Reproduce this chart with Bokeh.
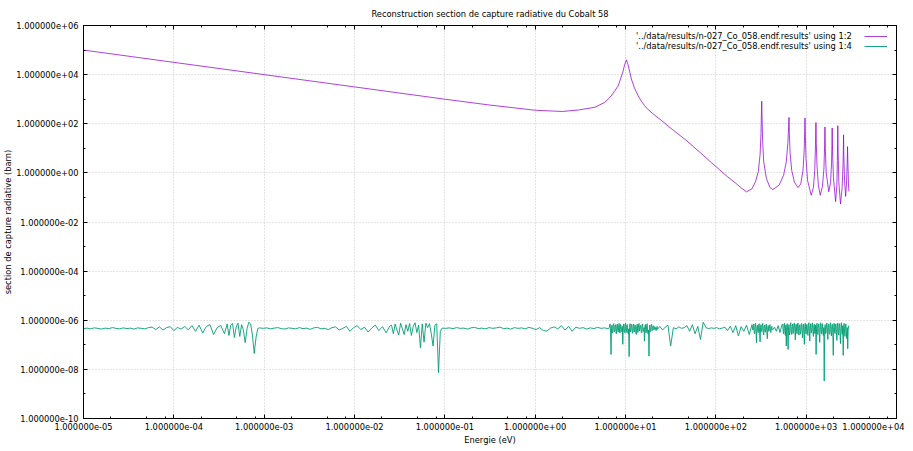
from bokeh.plotting import figure
from bokeh.models import (FixedTicker, LogAxis, Legend, LegendItem, Range1d,
                          CustomJSTickFormatter, ColumnDataSource)
from bokeh.embed import file_html
from bokeh.resources import INLINE

# ---------------- data (log10 values) ----------------
title_text = "Reconstruction section de capture radiative du Cobalt 58"
x_axis_title = "Energie (eV)"
y_axis_title = "section de capture radiative (barn)"
series_labels = ["'../data/results/n-027_Co_058.endf.results' using 1:2",
                 "'../data/results/n-027_Co_058.endf.results' using 1:4"]

x_tick_values = [1e-5, 1e-4, 1e-3, 1e-2, 1e-1, 1e0, 1e1, 1e2, 1e3, 1e4]
x_tick_labels = ["1.000000e-05", "1.000000e-04", "1.000000e-03", "1.000000e-02",
                 "1.000000e-01", "1.000000e+00", "1.000000e+01", "1.000000e+02",
                 "1.000000e+03", "1.000000e+04"]
y_tick_values = [1e-10, 1e-8, 1e-6, 1e-4, 1e-2, 1e0, 1e2, 1e4, 1e6]
y_tick_labels = ["1.000000e-10", "1.000000e-08", "1.000000e-06", "1.000000e-04",
                 "1.000000e-02", "1.000000e+00", "1.000000e+02", "1.000000e+04",
                 "1.000000e+06"]
y_minor_values = [1e-9, 1e-7, 1e-5, 1e-3, 1e-1, 1e1, 1e3, 1e5]
x_minor_values = [m * 10.0 ** k for k in range(-5, 4) for m in (2, 5, 8)]

# series "using 1:2" (purple): log10 energy (eV) and log10 cross-section (barn)
purple_log10_energy = [
    -5.0, -4.0, -3.0, -2.0, -1.0, -0.5, 0.0, 0.3, 0.48, 0.66,
    0.77, 0.84, 0.92, 0.97, 0.99, 1.01, 1.03, 1.065, 1.10, 1.14,
    1.17, 1.21, 1.25, 1.30, 1.35, 1.40, 1.48, 1.58, 1.68, 1.77,
    1.86, 1.95, 2.04, 2.13, 2.22, 2.28, 2.34,
    2.40, 2.44, 2.47, 2.49, 2.50, 2.505, 2.508, 2.512, 2.518, 2.53,
    2.56, 2.60, 2.63, 2.70, 2.75, 2.78, 2.797, 2.806, 2.81, 2.814,
    2.822, 2.84, 2.87, 2.91, 2.94, 2.965, 2.978, 2.984, 2.987, 2.991,
    2.998, 3.015, 3.056, 3.08, 3.095, 3.103, 3.108, 3.112, 3.12, 3.135,
    3.156, 3.18, 3.197, 3.204, 3.208, 3.212, 3.222, 3.25, 3.27, 3.281,
    3.285, 3.288, 3.292, 3.302, 3.326, 3.34, 3.345, 3.348, 3.35, 3.354,
    3.362, 3.38, 3.398, 3.408, 3.411, 3.414, 3.417, 3.425, 3.437, 3.448,
    3.454, 3.458, 3.462, 3.468, 3.473]
purple_log10_sigma = [
    5.00, 4.50, 4.00, 3.50, 3.00, 2.76, 2.55, 2.50, 2.56, 2.67,
    2.87, 3.12, 3.55, 4.10, 4.40, 4.60, 4.38, 3.82, 3.45, 3.14,
    2.95, 2.74, 2.58, 2.42, 2.27, 2.13, 1.88, 1.59, 1.30, 1.01,
    0.72, 0.42, 0.13, -0.16, -0.42, -0.61, -0.77,
    -0.65, -0.35, 0.05, 0.75, 1.60, 2.50, 2.92, 2.20, 1.30, 0.45,
    -0.23, -0.60, -0.68, -0.50, -0.10, 0.45, 1.20, 1.90, 2.26, 1.60,
    0.80, 0.10, -0.38, -0.60, -0.45, 0.10, 0.90, 1.70, 2.23, 1.50,
    0.60, -0.30, -0.91, -0.60, 0.10, 1.10, 2.05, 1.20, 0.30, -0.50,
    -0.91, -0.55, 0.20, 1.10, 1.87, 1.00, 0.00, -0.77, -0.40, 0.40,
    1.10, 1.83, 0.90, -0.20, -1.17, -0.50, 0.50, 1.20, 1.92, 0.80,
    -0.40, -1.27, -0.60, 0.30, 0.90, 1.55, 0.70, -0.30, -0.96, -0.30,
    0.40, 1.07, 0.40, -0.40, -0.75]

# series "using 1:4" (green): log10 energy (eV) and log10 value
green_log10_energy = [
    -5.00, -4.96, -4.92, -4.88, -4.84, -4.80, -4.76, -4.72, -4.68, -4.64,
    -4.60, -4.56, -4.52, -4.48, -4.44, -4.40, -4.36, -4.32, -4.28,
    -4.24, -4.20, -4.16, -4.12, -4.08, -4.04, -4.00, -3.96, -3.92, -3.88, -3.84,
    -3.80, -3.76, -3.72, -3.68, -3.64, -3.60, -3.56, -3.52, -3.48, -3.44,
    -3.41, -3.39, -3.37, -3.35, -3.33, -3.31, -3.29, -3.27, -3.25, -3.23,
    -3.21, -3.19, -3.17, -3.15, -3.13, -3.11, -3.09, -3.07, -3.05,
    -3.01, -2.97, -2.93, -2.89, -2.85, -2.81, -2.77, -2.73, -2.69, -2.65,
    -2.61, -2.57, -2.53, -2.49, -2.45, -2.41, -2.37, -2.33, -2.29, -2.25,
    -2.21, -2.17, -2.13, -2.09, -2.05, -2.01, -1.97, -1.93, -1.89, -1.85,
    -1.81, -1.77, -1.73, -1.69, -1.65, -1.61,
    -1.59, -1.57, -1.55, -1.53, -1.51, -1.49, -1.47, -1.45, -1.43, -1.41,
    -1.39, -1.37, -1.35, -1.33, -1.31, -1.29, -1.27, -1.25, -1.23, -1.21,
    -1.19, -1.17, -1.15, -1.13, -1.11, -1.09, -1.07, -1.05, -1.03,
    -0.99, -0.95, -0.91, -0.87, -0.83, -0.79, -0.75, -0.71, -0.67, -0.63,
    -0.59, -0.55, -0.51, -0.47, -0.43, -0.39, -0.35, -0.31, -0.27, -0.23,
    -0.19, -0.15, -0.11, -0.07, -0.03, 0.01, 0.05, 0.09, 0.13, 0.17,
    0.21, 0.25, 0.29, 0.33, 0.37, 0.41, 0.45, 0.49, 0.53, 0.57,
    0.61, 0.65, 0.69, 0.73, 0.77, 0.81,
    0.820, 0.825, 0.830, 0.835, 0.840, 0.845, 0.850, 0.855, 0.860, 0.865,
    0.870, 0.875, 0.880, 0.885, 0.890, 0.895, 0.900, 0.905, 0.910, 0.915,
    0.920, 0.925, 0.930, 0.935, 0.940, 0.945, 0.950, 0.955, 0.960, 0.965,
    0.970, 0.975, 0.980, 0.985, 0.990, 0.995, 1.000, 1.005, 1.010, 1.015,
    1.020, 1.025, 1.030, 1.035, 1.040, 1.045, 1.050, 1.055, 1.060, 1.065,
    1.070, 1.075, 1.080, 1.085, 1.090, 1.095, 1.100, 1.105, 1.110, 1.115,
    1.120, 1.125, 1.130, 1.135, 1.140, 1.145, 1.150, 1.155, 1.160, 1.165,
    1.170, 1.175, 1.180, 1.185, 1.190, 1.195, 1.200, 1.205, 1.210, 1.215,
    1.220, 1.225, 1.230, 1.235, 1.240, 1.245, 1.250, 1.255, 1.260, 1.265,
    1.270, 1.275, 1.280, 1.285, 1.290, 1.295, 1.300, 1.305, 1.310, 1.315,
    1.320, 1.325, 1.330, 1.335, 1.340, 1.345, 1.350, 1.355, 1.360,
    1.38, 1.41, 1.44, 1.47, 1.50, 1.53, 1.56, 1.59, 1.62, 1.65,
    1.68, 1.71, 1.74, 1.77, 1.80, 1.83, 1.86, 1.89, 1.92, 1.95,
    1.98, 2.01, 2.04, 2.07, 2.10, 2.13, 2.16, 2.19, 2.22, 2.25,
    2.28, 2.31, 2.34, 2.37, 2.40,
    2.410, 2.415, 2.420, 2.425, 2.430, 2.435, 2.440, 2.445, 2.450, 2.455,
    2.460, 2.465, 2.470, 2.475, 2.480, 2.485, 2.490, 2.495, 2.500, 2.505,
    2.510, 2.515, 2.520, 2.525, 2.530, 2.535, 2.540, 2.545, 2.550, 2.555,
    2.560, 2.565, 2.570, 2.575, 2.580, 2.585, 2.590, 2.595, 2.600, 2.605,
    2.610, 2.615, 2.620, 2.625, 2.630,
    2.65, 2.67, 2.69, 2.71, 2.73,
    2.740, 2.745, 2.750, 2.755, 2.760, 2.765, 2.770, 2.775, 2.780, 2.785,
    2.790, 2.795, 2.800, 2.805, 2.810, 2.815, 2.820, 2.825, 2.830, 2.835,
    2.840, 2.845, 2.850, 2.855, 2.860, 2.865, 2.870, 2.875, 2.880, 2.885,
    2.890, 2.895, 2.900, 2.905, 2.910, 2.915, 2.920, 2.925, 2.930, 2.935,
    2.940, 2.945, 2.950, 2.955, 2.960, 2.965, 2.970, 2.975, 2.980, 2.985,
    2.990, 2.995, 3.000, 3.005, 3.010, 3.015, 3.020, 3.025, 3.030, 3.035,
    3.040, 3.045, 3.050, 3.055, 3.060, 3.065, 3.070, 3.075, 3.080, 3.085,
    3.090, 3.095, 3.100, 3.105, 3.110, 3.115, 3.120, 3.125, 3.130, 3.135,
    3.140, 3.145, 3.150, 3.155, 3.160, 3.165, 3.170, 3.175, 3.180, 3.185,
    3.190, 3.195, 3.200, 3.205, 3.210, 3.215, 3.220, 3.225, 3.230, 3.235,
    3.240, 3.245, 3.250, 3.255, 3.260, 3.265, 3.270, 3.275, 3.280, 3.285,
    3.290, 3.295, 3.300, 3.305, 3.310, 3.315, 3.320, 3.325, 3.330, 3.335,
    3.340, 3.345, 3.350, 3.355, 3.360, 3.365, 3.370, 3.375, 3.380, 3.385,
    3.390, 3.395, 3.400, 3.405, 3.410, 3.415, 3.420, 3.425, 3.430, 3.435,
    3.440, 3.445, 3.450, 3.455, 3.460, 3.465, 3.470]
green_log10_value = [
    -6.34, -6.32, -6.35, -6.31, -6.33, -6.36, -6.32, -6.34, -6.30, -6.33,
    -6.35, -6.31, -6.34, -6.32, -6.36, -6.31, -6.33, -6.35, -6.30,
    -6.28, -6.38, -6.27, -6.40, -6.30, -6.26, -6.42, -6.29, -6.36, -6.25, -6.39,
    -6.22, -6.45, -6.20, -6.52, -6.25, -6.18, -6.58, -6.30, -6.21, -6.55,
    -6.15, -6.62, -6.20, -6.13, -6.70, -6.28, -6.12, -6.66, -6.18, -6.40,
    -6.91, -6.35, -6.08, -6.15, -6.60, -7.35, -6.70, -6.33, -6.31,
    -6.33, -6.31, -6.35, -6.32, -6.30, -6.34, -6.36, -6.31, -6.33, -6.35,
    -6.30, -6.34, -6.32, -6.37, -6.31, -6.29, -6.35, -6.33, -6.38, -6.30,
    -6.27, -6.40, -6.33, -6.25, -6.45, -6.30, -6.22, -6.38, -6.28, -6.48,
    -6.32, -6.20, -6.42, -6.26, -6.51, -6.24,
    -6.20, -6.55, -6.15, -6.40, -6.60, -6.12, -6.35, -6.58, -6.18, -6.45,
    -6.13, -6.62, -6.25, -6.10, -6.50, -6.20, -7.12, -6.15, -6.89, -6.12,
    -6.30, -6.14, -6.55, -7.05, -6.20, -6.15, -8.13, -6.45, -6.32,
    -6.33, -6.31, -6.34, -6.30, -6.33, -6.32, -6.36, -6.31, -6.29, -6.34,
    -6.32, -6.35, -6.30, -6.33, -6.31, -6.28, -6.34, -6.32, -6.36, -6.30,
    -6.33, -6.31, -6.35, -6.29, -6.33, -6.38, -6.30, -6.42, -6.44, -6.32,
    -6.27, -6.35, -6.22, -6.40, -6.25, -6.45, -6.28, -6.33, -6.30, -6.36,
    -6.31, -6.34, -6.29, -6.33, -6.31, -6.35,
    -6.30, -6.18, -6.15, -6.48, -7.39, -6.35, -6.20, -6.52, -6.50, -6.17,
    -6.14, -6.47, -6.45, -6.20, -6.18, -6.53, -6.55, -6.19, -6.16, -6.44,
    -6.48, -6.22, -6.13, -6.49, -6.52, -6.17, -6.20, -6.46, -6.42, -6.25,
    -6.98, -6.30, -6.15, -6.45, -6.50, -6.18, -6.12, -6.51, -6.46, -6.20,
    -6.17, -6.49, -6.55, -6.35, -7.48, -6.30, -6.14, -6.47, -6.44, -6.16,
    -6.18, -6.53, -6.52, -6.20, -6.15, -6.48, -6.40, -6.19, -6.22, -6.55,
    -6.58, -6.24, -6.16, -6.50, -6.47, -6.18, -6.13, -6.44, -6.38, -6.21,
    -6.20, -6.52, -6.50, -6.17, -6.15, -6.46, -6.43, -6.30, -6.85, -6.25,
    -6.17, -6.51, -6.49, -6.19, -6.14, -6.50, -6.55, -6.40, -7.46, -6.28,
    -6.19, -6.47, -6.45, -6.21, -6.16, -6.42, -6.40, -6.24, -6.22, -6.39,
    -6.36, -6.26, -6.28, -6.40, -6.42, -6.30, -6.25, -6.37, -6.34,
    -6.25, -6.40, -6.28, -6.20, -7.05, -6.30, -6.35, -6.27, -6.33, -6.30,
    -6.22, -6.45, -6.18, -6.55, -6.25, -6.78, -6.08, -6.30, -6.34, -6.31,
    -6.33, -6.30, -6.35, -6.32, -6.28, -6.42, -6.24, -6.50, -6.22, -6.64,
    -6.26, -6.45, -6.20, -6.58, -6.18,
    -6.40, -6.22, -6.15, -6.50, -6.55, -6.18, -6.12, -6.48, -6.91, -6.30,
    -6.20, -6.47, -6.50, -6.19, -6.14, -6.52, -6.88, -6.28, -6.18, -6.46,
    -6.45, -6.20, -6.13, -6.51, -6.60, -6.25, -6.20, -6.49, -6.48, -6.19,
    -6.16, -6.50, -6.75, -6.30, -6.22, -6.45, -6.42, -6.20, -6.18, -6.47,
    -6.50, -6.28, -6.25, -6.40, -6.38,
    -6.28, -6.45, -6.22, -6.50, -6.20,
    -6.15, -6.42, -6.55, -6.18, -6.12, -6.50, -6.62, -6.20, -7.05, -6.30,
    -6.14, -6.45, -7.19, -6.25, -6.18, -6.60, -6.52, -6.16, -6.10, -6.48,
    -6.58, -6.22, -6.15, -6.54, -6.48, -6.13, -6.12, -6.44, -6.80, -6.20,
    -6.16, -6.52, -6.55, -6.14, -6.11, -6.46, -6.60, -6.21, -6.18, -6.57,
    -6.50, -6.17, -6.13, -6.49, -6.72, -6.24, -6.15, -6.55, -6.98, -6.26,
    -6.12, -6.47, -6.56, -6.19, -6.17, -6.53, -6.62, -6.22, -6.10, -6.45,
    -6.85, -6.28, -6.14, -6.50, -6.52, -6.18, -6.11, -6.47, -6.66, -6.23,
    -6.16, -6.54, -6.48, -6.20, -7.39, -6.35, -6.12, -6.49, -6.58, -6.19,
    -6.15, -6.51, -6.90, -6.26, -6.10, -6.46, -6.55, -6.17, -6.14, -6.52,
    -6.62, -6.30, -8.47, -6.40, -6.18, -6.55, -6.50, -6.16, -6.11, -6.48,
    -6.78, -6.22, -6.15, -6.53, -6.57, -6.19, -6.10, -6.50, -6.64, -6.21,
    -6.16, -6.56, -7.43, -6.30, -6.12, -6.48, -6.54, -6.20, -6.15, -6.51,
    -6.82, -6.24, -6.11, -6.49, -6.60, -6.18, -6.14, -6.55, -6.95, -6.27,
    -6.10, -6.47, -6.58, -6.22, -7.43, -6.32, -6.13, -6.50, -6.66, -6.20,
    -6.15, -6.52, -6.75, -6.30, -7.16, -6.40, -6.22]

# ---------------- style ----------------
FONT = "DejaVu Sans"
FSIZE = "8.3px"
PURPLE = "#9400d3"
GREEN = "#009e73"

n_p = min(len(purple_log10_energy), len(purple_log10_sigma))
n_g = min(len(green_log10_energy), len(green_log10_value))
src_purple = ColumnDataSource(dict(
    energy=[10.0 ** v for v in purple_log10_energy[:n_p]],
    sigma=[10.0 ** v for v in purple_log10_sigma[:n_p]]))
src_green = ColumnDataSource(dict(
    energy=[10.0 ** v for v in green_log10_energy[:n_g]],
    sigma=[10.0 ** v for v in green_log10_value[:n_g]]))

FRAME_W, FRAME_H = 813, 393
p = figure(frame_width=FRAME_W, frame_height=FRAME_H,
           x_axis_type="log", y_axis_type="log",
           x_range=Range1d(1e-5, 1e4), y_range=Range1d(1e-10, 1e6),
           output_backend="svg", toolbar_location=None,
           min_border_left=76, min_border_right=8,
           min_border_top=16, min_border_bottom=26,
           title=title_text)
p.background_fill_color = "white"
p.border_fill_color = "white"
p.outline_line_color = "black"
p.outline_line_width = 1

p.title.text_font = FONT
p.title.text_font_size = FSIZE
p.title.text_font_style = "normal"
p.title.text_color = "black"
p.title.align = "center"
p.title.standoff = 13
p.title.offset = 0

label_code = """
let best = 0; let bd = Infinity;
for (let i = 0; i < tvals.length; i++) {
  const d = Math.abs(Math.log10(tick) - Math.log10(tvals[i]));
  if (d < bd) { bd = d; best = i; }
}
return tlabels[best];
"""
x_ticker = FixedTicker(ticks=x_tick_values, minor_ticks=x_minor_values)
y_ticker = FixedTicker(ticks=y_tick_values, minor_ticks=y_minor_values)
x_fmt = CustomJSTickFormatter(args=dict(tvals=x_tick_values, tlabels=x_tick_labels), code=label_code)
y_fmt = CustomJSTickFormatter(args=dict(tvals=y_tick_values, tlabels=y_tick_labels), code=label_code)
blank_fmt_x = CustomJSTickFormatter(code='return "";')
blank_fmt_y = CustomJSTickFormatter(code='return "";')


def style_axis(ax):
    ax.axis_line_color = "black"
    ax.axis_line_width = 1
    ax.major_tick_line_color = "black"
    ax.minor_tick_line_color = "black"
    ax.major_tick_in = 4
    ax.major_tick_out = 0
    ax.minor_tick_in = 2
    ax.minor_tick_out = 0
    ax.major_label_text_font = FONT
    ax.major_label_text_font_size = FSIZE
    ax.major_label_text_color = "black"
    ax.axis_label_text_font = FONT
    ax.axis_label_text_font_size = FSIZE
    ax.axis_label_text_font_style = "normal"
    ax.axis_label_text_color = "black"


xa = p.xaxis[0]
xa.ticker = x_ticker
xa.formatter = x_fmt
xa.axis_label = x_axis_title
style_axis(xa)
xa.major_label_standoff = 4
xa.axis_label_standoff = 2

ya = p.yaxis[0]
ya.ticker = y_ticker
ya.formatter = y_fmt
ya.axis_label = y_axis_title
style_axis(ya)
ya.major_label_standoff = 5
ya.axis_label_standoff = 0

top_axis = LogAxis(ticker=x_ticker, formatter=blank_fmt_x)
style_axis(top_axis)
top_axis.major_label_text_font_size = "0px"
top_axis.major_label_standoff = 0
p.add_layout(top_axis, "above")

right_axis = LogAxis(ticker=y_ticker, formatter=blank_fmt_y)
style_axis(right_axis)
right_axis.major_label_text_font_size = "0px"
right_axis.major_label_standoff = 0
p.add_layout(right_axis, "right")

p.xgrid.ticker = x_ticker
p.ygrid.ticker = y_ticker
for g in (p.xgrid[0], p.ygrid[0]):
    g.grid_line_color = "#c8c8c8"
    g.grid_line_dash = "1 2"
    g.grid_line_width = 1

r1 = p.line("energy", "sigma", source=src_purple, line_color=PURPLE,
            line_width=1, line_alpha=0.75)
r2 = p.line("energy", "sigma", source=src_green, line_color=GREEN,
            line_width=1, line_alpha=0.9)

# key block: text on the left, line samples on the right (as in the original)
legend_text = Legend(items=[LegendItem(label=series_labels[0], renderers=[]),
                            LegendItem(label=series_labels[1], renderers=[])],
                     location=(553, FRAME_H - 26), glyph_width=0, glyph_height=10,
                     label_height=10, label_standoff=0, spacing=0, padding=0, margin=0,
                     label_text_font=FONT, label_text_font_size=FSIZE,
                     label_text_color="black", background_fill_alpha=0,
                     border_line_color=None)
legend_lines = Legend(items=[LegendItem(label="", renderers=[r1]),
                             LegendItem(label="", renderers=[r2])],
                      location=(781, FRAME_H - 26), glyph_width=23, glyph_height=10,
                      label_height=10, label_width=0, label_standoff=0, spacing=0,
                      padding=0, margin=0, label_text_font=FONT,
                      label_text_font_size=FSIZE,
                      background_fill_alpha=0, border_line_color=None)
p.add_layout(legend_text)
p.add_layout(legend_lines)

open("out.html", "w").write(file_html(p, INLINE))
